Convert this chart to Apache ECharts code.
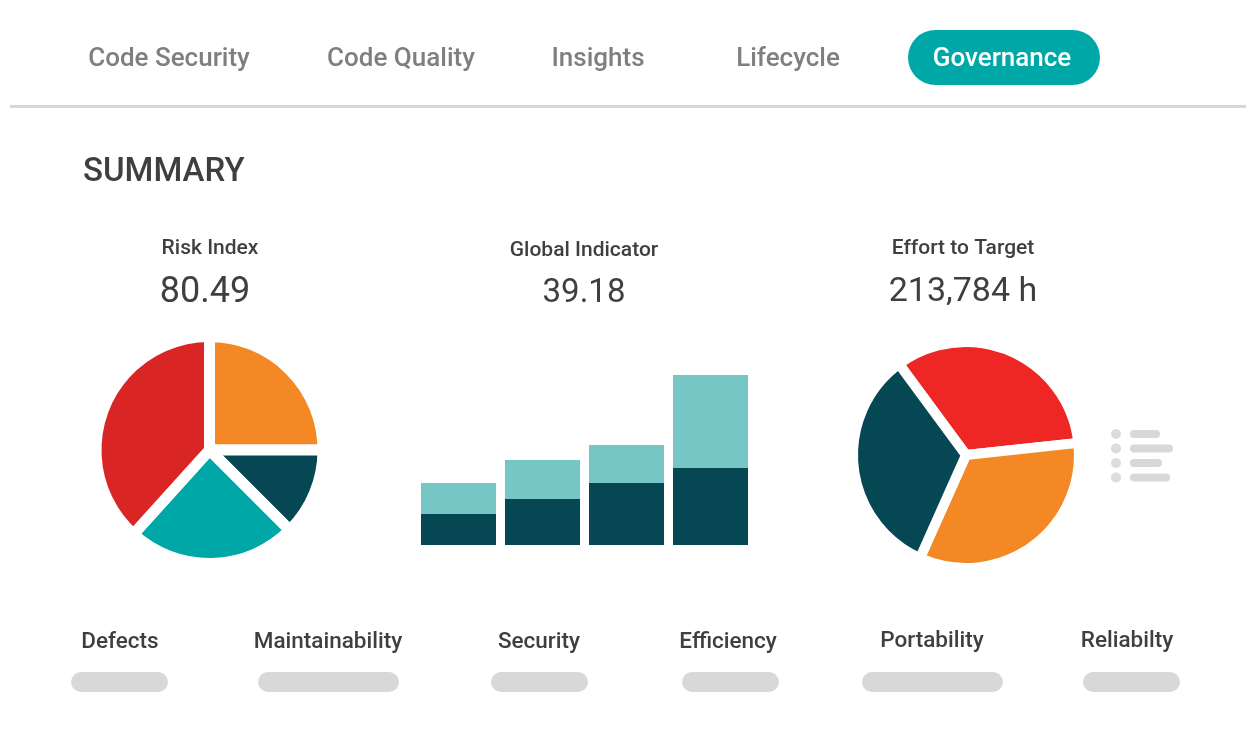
<!DOCTYPE html>
<html lang="en" style="height: 100%">

<head>
  <meta charset="utf-8">
</head>

<body style="height: 100%; margin: 0; background: #fff">
  <div id="container" style="height: 100%"></div>
  <script type="text/javascript" src="https://fastly.jsdelivr.net/npm/echarts@6/dist/echarts.min.js"></script>

  <script type="text/javascript">
    const tabs = ['Code Security', 'Code Quality', 'Insights', 'Lifecycle', 'Governance'];
    const tabX = [169, 401, 598, 788, 1002];

    const riskValues = [25, 12.5, 24.2, 38.3];
    const riskColors = ['#F48824', '#054752', '#00A7A7', '#D92624'];
    const effortValues = [33.4, 33.4, 33.2];
    const effortColors = ['#EE2624', '#F48824', '#054752'];

    const barCategories = ['A', 'B', 'C', 'D'];
    const barDark = [31, 46, 62, 77];
    const barLight = [31, 39, 38, 93];

    const footLabels = ['Defects', 'Maintainability', 'Security', 'Efficiency', 'Portability', 'Reliabilty'];
    const footX = [120, 328, 539, 728, 932, 1127];
    const footY = [642, 642, 642, 642, 641, 641];
    const pillLeft = [71, 258, 491, 682, 862, 1083];
    const pillWidth = [97, 141, 97, 97, 141, 97];
    const legendY = [434, 448.5, 463, 477.5];
    const legendWidth = [30, 43, 32, 40];

    const fontName = 'Roboto';

    function label(text, x, y, size, color, weight, align) {
      return {
        type: 'text',
        x: x,
        y: y,
        style: {
          text: text,
          fill: color,
          font: (weight || 500) + ' ' + size + 'px ' + fontName,
          align: align || 'center',
          verticalAlign: 'middle'
        }
      };
    }

    function pill(x, y, w, h, color) {
      return {
        type: 'rect',
        shape: { x: x, y: y, width: w, height: h, r: h / 2 },
        style: { fill: color }
      };
    }

    const graphics = [];
    // active tab and divider
    graphics.push(pill(908, 30, 192, 55, '#00A7A7'));
    graphics.push({
      type: 'rect',
      shape: { x: 10, y: 105, width: 1236, height: 3 },
      style: { fill: '#D8D8D8' }
    });
    tabs.forEach(function (t, i) {
      graphics.push(label(t, tabX[i], 59, 26, i === 4 ? '#FFFFFF' : '#7F7F7F'));
    });

    graphics.push(label('SUMMARY', 83, 173, 33, '#3F3F3F', 500, 'left'));

    graphics.push(label('Risk Index', 210, 249, 21, '#3F3F3F'));
    graphics.push(label('80.49', 205, 293, 36, '#3F3F3F', 400));
    graphics.push(label('Global Indicator', 584, 251, 21, '#3F3F3F'));
    graphics.push(label('39.18', 584, 294, 33, '#3F3F3F', 400));
    graphics.push(label('Effort to Target', 963, 249, 21, '#3F3F3F'));
    graphics.push(label('213,784 h', 963, 292, 34, '#3F3F3F', 400));

    // little legend next to the right pie
    legendY.forEach(function (y, i) {
      graphics.push({
        type: 'circle',
        shape: { cx: 1116, cy: y, r: 5 },
        style: { fill: '#DCDCDC' }
      });
      graphics.push(pill(1130, y - 4, legendWidth[i], 8, '#D8D8D8'));
    });

    footLabels.forEach(function (t, i) {
      graphics.push(label(t, footX[i], footY[i], 22.5, '#3F3F3F'));
      graphics.push(pill(pillLeft[i], 672, pillWidth[i], 20, '#D8D8D8'));
    });

    function pieSeries(values, colors, center, start, gap) {
      return {
        type: 'pie',
        center: center,
        radius: [0, 108 + gap / 2],
        startAngle: start,
        silent: true,
        label: { show: false },
        labelLine: { show: false },
        itemStyle: { borderColor: '#fff', borderWidth: gap },
        data: values.map(function (v, i) {
          return { value: v, itemStyle: { color: colors[i] } };
        })
      };
    }

    var dom = document.getElementById('container');
    var myChart = echarts.init(dom, null, { renderer: 'canvas' });

    var option = {
      animation: false,
      backgroundColor: '#fff',
      grid: { left: 416.5, width: 336, top: 345, height: 200 },
      xAxis: { type: 'category', data: barCategories, show: false },
      yAxis: { type: 'value', min: 0, max: 200, show: false },
      graphic: graphics,
      series: [
        pieSeries(riskValues, riskColors, [209.5, 450], 90, 11),
        pieSeries(effortValues, effortColors, [966, 455], 126.4, 10),
        {
          type: 'bar',
          stack: 'total',
          barWidth: 75,
          silent: true,
          itemStyle: { color: '#054752' },
          data: barDark
        },
        {
          type: 'bar',
          stack: 'total',
          barWidth: 75,
          silent: true,
          itemStyle: { color: '#76C6C5' },
          data: barLight
        }
      ]
    };

    myChart.setOption(option);
    window.addEventListener('resize', myChart.resize);
  </script>
</body>

</html>
